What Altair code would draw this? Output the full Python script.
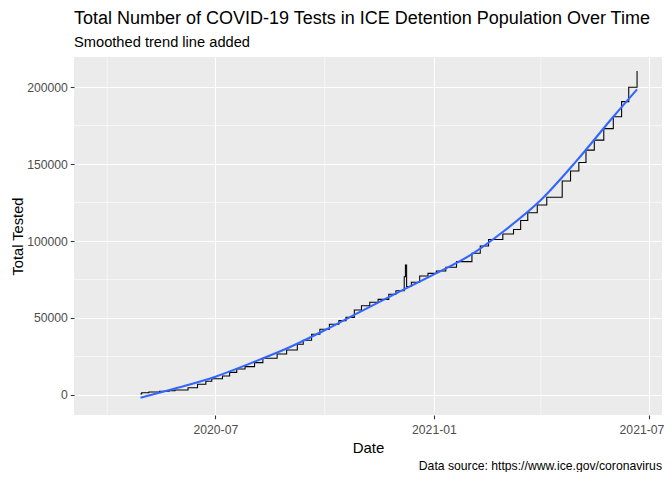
import altair as alt
import pandas as pd

# ---- data ----
step_dates = ["2020-04-29", "2020-04-30", "2020-05-06", "2020-05-15", "2020-05-23", "2020-05-28",
              "2020-06-08", "2020-06-16", "2020-06-23", "2020-06-28", "2020-07-07", "2020-07-13",
              "2020-07-19", "2020-07-26", "2020-08-03", "2020-08-10", "2020-08-22", "2020-08-30",
              "2020-09-08", "2020-09-13", "2020-09-20", "2020-09-27", "2020-10-05", "2020-10-13",
              "2020-10-19", "2020-10-26", "2020-11-01", "2020-11-08", "2020-11-15", "2020-11-24",
              "2020-11-30", "2020-12-07", "2020-12-08", "2020-12-09", "2020-12-13", "2020-12-20",
              "2020-12-27", "2021-01-03", "2021-01-11", "2021-01-20", "2021-02-02", "2021-02-09",
              "2021-02-16", "2021-02-28", "2021-03-09", "2021-03-15", "2021-03-21", "2021-03-29",
              "2021-04-06", "2021-04-19", "2021-04-26", "2021-05-03", "2021-05-09", "2021-05-16",
              "2021-05-24", "2021-06-01", "2021-06-08", "2021-06-14", "2021-06-21"]
step_values = [700, 1500, 1950, 2400, 2800, 3250,
               4750, 6950, 8900, 10500, 12300, 14700,
               16900, 18400, 21000, 23800, 26600, 29200,
               33000, 35500, 39400, 42700, 45900, 48300,
               50400, 55200, 58000, 60200, 62100, 65400,
               67700, 76800, 84400, 70400, 73200, 77300,
               79000, 80500, 83000, 86600, 92000, 96800,
               101000, 104500, 107500, 113300, 118300, 123400,
               128400, 139000, 145500, 151000, 159000, 165500,
               173000, 180700, 190500, 199800, 210400]

smooth_dates = ["2020-04-29", "2020-05-31", "2020-07-01", "2020-08-01", "2020-09-01", "2020-10-01",
                "2020-11-01", "2020-12-01", "2021-01-01", "2021-02-01", "2021-03-01", "2021-04-01",
                "2021-05-01", "2021-06-01", "2021-06-21"]
smooth_values = [-1800, 4800, 11900, 21000, 30800, 42000,
                 54500, 66300, 78300, 91000, 106500, 126600,
                 152000, 180700, 198500]

x_major = ["2020-07-01", "2021-01-01", "2021-07-01"]
x_minor = ["2020-04-01", "2020-10-01", "2021-04-01"]
y_major = [0, 50000, 100000, 150000, 200000]
y_minor = [25000, 75000, 125000, 175000]

title_text = "Total Number of COVID-19 Tests in ICE Detention Population Over Time"
subtitle_text = "Smoothed trend line added"
caption_text = "Data source: https://www.ice.gov/coronavirus"

FONT = "Liberation Sans"


def dt(s):
    y, m, d = (int(p) for p in s.split("-"))
    return alt.DateTime(year=y, month=m, date=d, utc=True)


x_scale = alt.Scale(type="utc", domain=[dt("2020-03-04"), dt("2021-07-12")], nice=False)
y_scale = alt.Scale(domain=[-13000, 219500], nice=False, zero=False)


def x_enc():
    return alt.X("date:T", scale=x_scale, title="Date",
                 axis=alt.Axis(values=[dt(s) for s in x_major], format="%Y-%m",
                               labelPadding=4.5, titlePadding=5,
                               labelOffset={"condition": {"test": "datum.value > 1620000000000",
                                                          "value": -7.5}, "value": 0}))


def y_enc():
    return alt.Y("value:Q", scale=y_scale, title="Total Tested",
                 axis=alt.Axis(values=y_major, format="d", labelPadding=3, titlePadding=1.5,
                               titleFontSize=14.67))


step_df = pd.DataFrame({"date": step_dates, "value": step_values})
smooth_df = pd.DataFrame({"date": smooth_dates, "value": smooth_values})
xminor_df = pd.DataFrame({"date": x_minor})
yminor_df = pd.DataFrame({"value": y_minor})

minor_x = alt.Chart(xminor_df).mark_rule(color="white", strokeWidth=0.55).encode(x=x_enc())
minor_y = alt.Chart(yminor_df).mark_rule(color="white", strokeWidth=0.55).encode(y=y_enc())

steps = alt.Chart(step_df).mark_line(
    interpolate="step-after", color="black", strokeWidth=1.07
).encode(x=x_enc(), y=y_enc())

smooth = alt.Chart(smooth_df).mark_line(
    interpolate="monotone", color="#3366FF", strokeWidth=2.1
).encode(x=x_enc(), y=y_enc())

caption = alt.Chart(pd.DataFrame({"t": [caption_text]})).mark_text(
    align="right", baseline="middle", font=FONT, fontSize=12.2, color="black"
).encode(text="t:N", x=alt.value(588), y=alt.value(409))

chart = alt.layer(minor_x, minor_y, steps, smooth, caption).properties(
    width=588,
    height=358,
    background="white",
    autosize=alt.AutoSizeParams(type="none"),
    padding={"left": 66, "top": 49, "right": 2, "bottom": 57},
    title=alt.TitleParams(
        text=title_text, subtitle=subtitle_text, anchor="start", frame="group",
        font=FONT, fontSize=18, fontWeight="normal", color="black",
        subtitleFont=FONT, subtitleFontSize=14.67, subtitleColor="black",
        subtitlePadding=7, offset=7.5,
    ),
).configure_view(
    fill="#EBEBEB", strokeWidth=0
).configure_axis(
    grid=True, gridColor="white", gridWidth=1.1, domain=False,
    tickColor="#333333", tickSize=3.7, tickWidth=1.1,
    labelColor="#4D4D4D", labelFont=FONT, labelFontSize=12.2,
    titleFont=FONT, titleFontSize=15, titleFontWeight="normal", titleColor="black",
)

chart.save("out.html", embed_options={"renderer": "svg", "actions": False})
